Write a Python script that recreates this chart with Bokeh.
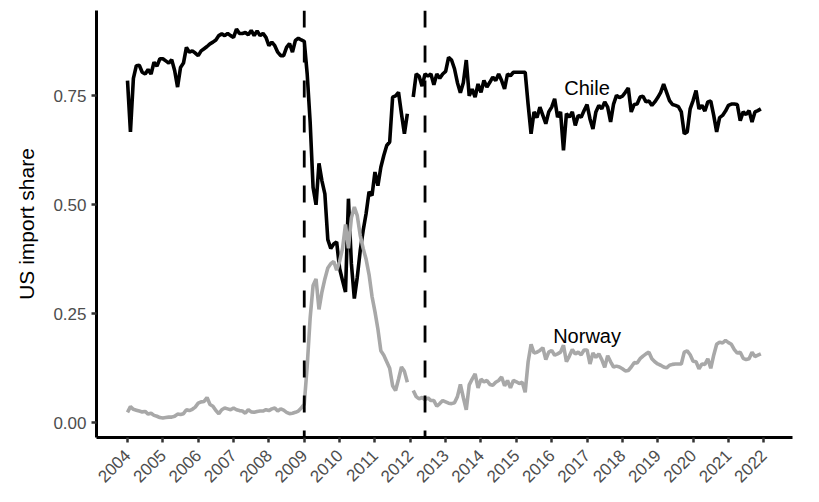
import math
from bokeh.plotting import figure
from bokeh.models import Range1d, FixedTicker, NumeralTickFormatter, Span, ColumnDataSource
from bokeh.core.properties import value
from bokeh.embed import file_html
from bokeh.resources import INLINE

nan = float("nan")

start_year = 2004
year_ticks = list(range(2004, 2023))
share_ticks = [0.0, 0.25, 0.5, 0.75]
event_dates = [2009.0, 2012.4167]

chile = [
    0.785, 0.667, 0.79, 0.819, 0.82, 0.804, 0.80, 0.81, 0.80, 0.827, 0.818, 0.835,
    0.835, 0.83, 0.825, 0.833, 0.808, 0.77, 0.815, 0.825, 0.861, 0.85, 0.853, 0.848,
    0.842, 0.853, 0.858, 0.863, 0.869, 0.873, 0.878, 0.888, 0.892, 0.888, 0.893, 0.888,
    0.884, 0.903, 0.893, 0.893, 0.895, 0.89, 0.90, 0.888, 0.899, 0.888, 0.893, 0.884,
    0.865, 0.873, 0.865, 0.85, 0.842, 0.842, 0.861, 0.87, 0.85, 0.877, 0.882, 0.878,
    0.875, 0.80, 0.69, 0.54, 0.50, 0.595, 0.555, 0.525, 0.42, 0.40, 0.41, 0.415,
    0.354, 0.326, 0.30, 0.514, 0.365, 0.285, 0.334, 0.395, 0.441, 0.48, 0.53, 0.521,
    0.575, 0.544, 0.586, 0.613, 0.636, 0.644, 0.747, 0.75, 0.758, 0.709, 0.663, 0.709,
    nan, 0.747, 0.80, 0.795, 0.772, 0.80, 0.795, 0.80, 0.775, 0.80, 0.79, 0.80,
    0.806, 0.838, 0.832, 0.812, 0.78, 0.757, 0.78, 0.832, 0.75, 0.765, 0.747, 0.777,
    0.758, 0.785, 0.77, 0.781, 0.793, 0.785, 0.80, 0.785, 0.766, 0.80, 0.796, 0.804,
    0.804, 0.804, 0.804, 0.804, 0.73, 0.663, 0.713, 0.70, 0.724, 0.705, 0.686, 0.713,
    0.724, 0.743, 0.701, 0.713, 0.625, 0.709, 0.701, 0.713, 0.682, 0.705, 0.701, 0.716,
    0.73, 0.697, 0.674, 0.713, 0.728, 0.72, 0.736, 0.724, 0.69, 0.731, 0.751, 0.746,
    0.749, 0.758, 0.768, 0.713, 0.73, 0.731, 0.747, 0.749, 0.736, 0.738, 0.728, 0.736,
    0.746, 0.758, 0.777, 0.758, 0.739, 0.73, 0.728, 0.725, 0.713, 0.663, 0.667, 0.72,
    0.739, 0.762, 0.72, 0.728, 0.715, 0.736, 0.738, 0.705, 0.667, 0.70, 0.705, 0.715,
    0.728, 0.731, 0.731, 0.73, 0.693, 0.713, 0.707, 0.716, 0.69, 0.713, 0.716, 0.72,
]

norway = [
    0.024, 0.037, 0.031, 0.029, 0.027, 0.025, 0.026, 0.02, 0.022, 0.017, 0.015, 0.012,
    0.011, 0.012, 0.013, 0.013, 0.015, 0.02, 0.019, 0.021, 0.03, 0.028, 0.031, 0.036,
    0.045, 0.048, 0.049, 0.058, 0.042, 0.038, 0.028, 0.021, 0.03, 0.034, 0.032, 0.03,
    0.034, 0.03, 0.028, 0.027, 0.022, 0.03, 0.025, 0.024, 0.026, 0.027, 0.027, 0.03,
    0.028, 0.032, 0.034, 0.027, 0.032, 0.029, 0.024, 0.021, 0.022, 0.024, 0.027, 0.034,
    0.043, 0.13, 0.24, 0.315, 0.33, 0.26, 0.30, 0.33, 0.355, 0.365, 0.37, 0.35,
    0.37, 0.40, 0.455, 0.40, 0.47, 0.495, 0.475, 0.43, 0.40, 0.375, 0.34, 0.29,
    0.255, 0.215, 0.165, 0.155, 0.14, 0.125, 0.085, 0.074, 0.10, 0.128, 0.118, 0.093,
    nan, 0.074, 0.06, 0.055, 0.058, 0.053, 0.057, 0.051, 0.051, 0.038, 0.044, 0.051,
    0.048, 0.045, 0.044, 0.046, 0.06, 0.088, 0.058, 0.03, 0.087, 0.10, 0.112, 0.08,
    0.10, 0.094, 0.097, 0.088, 0.086, 0.093, 0.097, 0.105, 0.085, 0.097, 0.08, 0.097,
    0.094, 0.09, 0.093, 0.07, 0.14, 0.18, 0.16, 0.162, 0.166, 0.172, 0.145, 0.162,
    0.166, 0.155, 0.158, 0.162, 0.178, 0.14, 0.153, 0.168, 0.158, 0.162, 0.156, 0.167,
    0.167, 0.135, 0.16, 0.15, 0.158, 0.145, 0.127, 0.154, 0.14, 0.128, 0.13, 0.128,
    0.124, 0.119, 0.12, 0.128, 0.138, 0.137, 0.147, 0.153, 0.158, 0.162, 0.147, 0.14,
    0.135, 0.132, 0.128, 0.126, 0.132, 0.134, 0.135, 0.135, 0.135, 0.162, 0.165, 0.156,
    0.141, 0.14, 0.124, 0.135, 0.134, 0.147, 0.125, 0.155, 0.18, 0.185, 0.183, 0.189,
    0.184, 0.18, 0.168, 0.16, 0.162, 0.148, 0.145, 0.147, 0.162, 0.152, 0.155, 0.158,
]

months = [start_year + i / 12 for i in range(len(chile))]

label_text = ["Chile", "Norway"]
label_x = [2017.0, 2017.0]
label_y = [0.767, 0.199]

FONT = "Liberation Sans"

p = figure(width=815, height=498, output_backend="svg", toolbar_location=None,
           x_range=Range1d(2003.123, 2022.812), y_range=Range1d(-0.0337, 0.9456),
           min_border_left=96, min_border_right=23, min_border_top=10, min_border_bottom=61)
p.outline_line_color = None
p.xgrid.visible = False
p.ygrid.visible = False
p.background_fill_color = "white"
p.border_fill_color = "white"

src = ColumnDataSource(dict(x=months, chile=chile, norway=norway))
p.line("x", "chile", source=src, line_color="black", line_width=3.6)
p.line("x", "norway", source=src, line_color="#A8A8A8", line_width=3.6)

for d in event_dates:
    p.add_layout(Span(location=d, dimension="height", line_color="black",
                      line_width=2.8, line_dash="17 18"))

p.text(x=label_x, y=label_y, text=label_text, text_align="center", text_baseline="middle",
       text_font=value(FONT), text_font_size="20px", text_color="black")

xa = p.xaxis[0]
xa.ticker = FixedTicker(ticks=year_ticks)
xa.major_label_overrides = {y: str(y) for y in year_ticks}
xa.major_label_orientation = math.pi / 4

ya = p.yaxis[0]
ya.ticker = FixedTicker(ticks=share_ticks)
ya.formatter = NumeralTickFormatter(format="0.00")
ya.axis_label = "US import share"
ya.axis_label_text_font = FONT
ya.axis_label_text_font_size = "21px"
ya.axis_label_text_font_style = "normal"
ya.axis_label_text_color = "black"
ya.axis_label_standoff = 12

for ax in (xa, ya):
    ax.axis_line_color = "black"
    ax.axis_line_width = 3
    ax.major_tick_line_color = "#333333"
    ax.major_tick_line_width = 2.5
    ax.major_tick_out = 5
    ax.major_tick_in = 0
    ax.minor_tick_line_color = None
    ax.major_label_text_font = FONT
    ax.major_label_text_font_size = "17px"
    ax.major_label_text_color = "#4d4d4d"
    ax.major_label_standoff = 5

xa.major_label_standoff = 10

open("out.html", "w").write(file_html(p, INLINE))
